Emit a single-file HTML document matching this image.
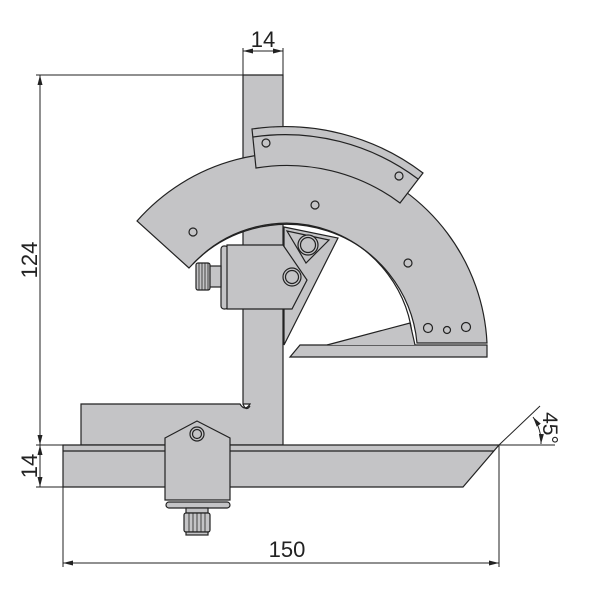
<!DOCTYPE html><html><head><style>body{margin:0;background:#fff}svg{display:block}</style></head><body>
<svg width="601" height="601" viewBox="0 0 601 601" xmlns="http://www.w3.org/2000/svg" font-family="Liberation Sans, sans-serif">
<defs><marker id="a" markerWidth="10" markerHeight="5" refX="10" refY="2.5" orient="auto-start-reverse" markerUnits="userSpaceOnUse"><path d="M0,0 L10,2.5 L0,5 z" fill="#222"/></marker></defs>
<g stroke="#222" stroke-width="1.2" fill="#c4c4c6">
<path d="M81,445 V404 H240 Q245,412 250,404 H243 V75 H283 V445 Z"/>
<path d="M243,404 Q246,412 250,406" fill="none"/>
<path d="M63,445 H499 L463,487 H63 Z"/>
<line x1="63" y1="451" x2="494" y2="451"/>
<path d="M137,221 A200,200 0 0 1 487,343 L417,343 A131,131 0 0 0 189,268 Z"/>
<path d="M193,264 A127,127 0 0 1 413,343" fill="none"/>
<path d="M252,129 A228,228 0 0 1 423,173 L400,203 A189,189 0 0 0 256,168 Z"/>
<path d="M253,137 A221,221 0 0 1 418,179" fill="none"/>
<path d="M290,357 L300,345 H487 V357 Z"/>
<path d="M327,345 L410,323 L415,345" />
<path d="M284,227 L338,238 L284,345 Z"/>
<path d="M287,231 L329,240 L306,263 Z" fill="none"/>
<rect x="221" y="246" width="7" height="63" rx="3"/>
<path d="M227,245 H283 L307,280 L292,309 H227 Z"/>
<rect x="209" y="266" width="12" height="21"/>
<rect x="196" y="263" width="14" height="27" rx="2"/>
<g stroke-width="0.8"><line x1="199" y1="263" x2="199" y2="290"/><line x1="202" y1="263" x2="202" y2="290"/><line x1="205" y1="263" x2="205" y2="290"/><line x1="208" y1="263" x2="208" y2="290"/></g>
<circle cx="292" cy="277" r="9"/><circle cx="292" cy="277" r="6.5"/>
<circle cx="308" cy="245" r="10"/><circle cx="308" cy="245" r="7.5"/>
<circle cx="193" cy="232" r="4"/><circle cx="315" cy="205" r="4"/><circle cx="408" cy="263" r="4"/>
<circle cx="428" cy="328" r="4.5"/><circle cx="447" cy="330" r="3.5"/><circle cx="466" cy="327" r="4.5"/>
<circle cx="266" cy="143" r="4"/><circle cx="399" cy="176" r="4"/>
<path d="M165,438 L197,421 L230,438 V500 H165 Z"/>
<circle cx="197" cy="434" r="7"/><circle cx="197" cy="434" r="4.5"/>
<rect x="166" y="502" width="64" height="6" rx="3"/>
<rect x="186" y="508" width="22" height="5"/>
<rect x="184" y="513" width="26" height="19" rx="2"/>
<rect x="186" y="532" width="22" height="3"/>
<g stroke-width="0.8"><line x1="189" y1="513" x2="189" y2="532"/><line x1="193" y1="513" x2="193" y2="532"/><line x1="197" y1="513" x2="197" y2="532"/><line x1="201" y1="513" x2="201" y2="532"/><line x1="205" y1="513" x2="205" y2="532"/></g>
</g>
<g stroke="#222" stroke-width="1" fill="none">
<line x1="243" y1="48" x2="243" y2="75"/><line x1="283" y1="48" x2="283" y2="75"/>
<line x1="243" y1="51" x2="283" y2="51" marker-start="url(#a)" marker-end="url(#a)"/>
<line x1="36" y1="75" x2="243" y2="75"/><line x1="36" y1="445" x2="63" y2="445"/><line x1="36" y1="487" x2="63" y2="487"/>
<line x1="40" y1="75" x2="40" y2="445" marker-start="url(#a)" marker-end="url(#a)"/>
<line x1="40" y1="445" x2="40" y2="487" marker-start="url(#a)" marker-end="url(#a)"/>
<line x1="63" y1="487" x2="63" y2="567"/><line x1="499" y1="445" x2="499" y2="567"/>
<line x1="63" y1="563" x2="499" y2="563" marker-start="url(#a)" marker-end="url(#a)"/>
<line x1="499" y1="445" x2="555" y2="445"/><line x1="499" y1="445" x2="540" y2="406"/>
<path d="M533,417 A44,44 0 0 1 541,444" marker-start="url(#a)" marker-end="url(#a)"/>
</g>
<g fill="#222" font-size="22">
<text x="263" y="47" text-anchor="middle">14</text>
<text x="287" y="557" text-anchor="middle">150</text>
<text transform="translate(37,260) rotate(-90)" text-anchor="middle">124</text>
<text transform="translate(37,466) rotate(-90)" text-anchor="middle">14</text>
<text transform="translate(543,428) rotate(90)" text-anchor="middle" font-size="21">45°</text>
</g>
</svg>
</body></html>
